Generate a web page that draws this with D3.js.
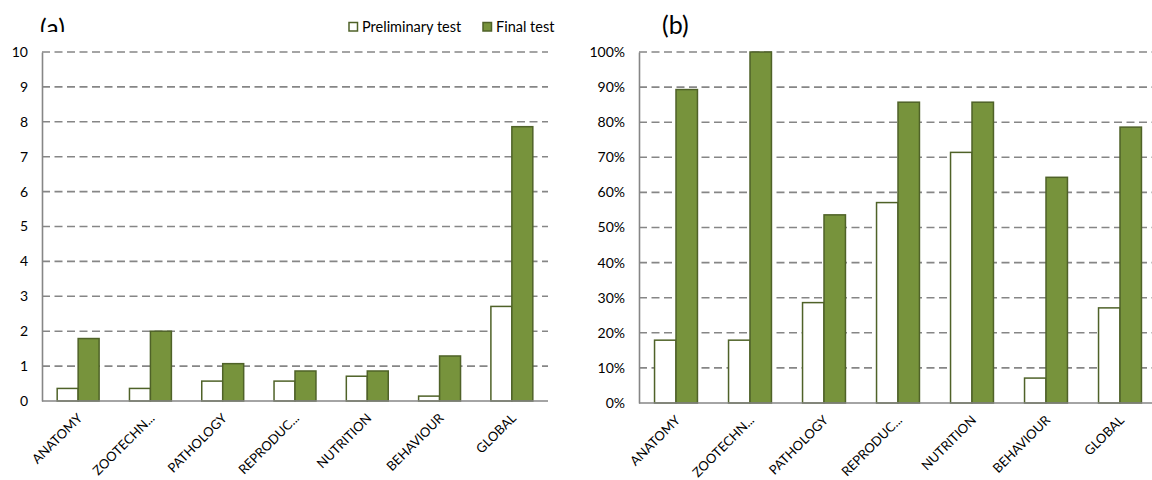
<!DOCTYPE html>
<html>
<head>
<meta charset="utf-8">
<script src="https://cdn.jsdelivr.net/npm/d3@7"></script>
<style>
  body { margin: 0; background: #fff; }
  svg { display: block; font-family: Lato, "Open Sans", sans-serif; }
</style>
</head>
<body>
<svg id="area" width="1152" height="480"></svg>
<script>
// data (14 students -> steps of 1/14)
const categories = ['ANATOMY', 'ZOOTECHN...', 'PATHOLOGY', 'REPRODUC...', 'NUTRITION', 'BEHAVIOUR', 'GLOBAL'];
const series = ['Preliminary test', 'Final test'];

const scorePrelim = [0.36, 0.36, 0.57, 0.57, 0.71, 0.14, 2.71];
const scoreFinal = [1.79, 2.0, 1.07, 0.86, 0.86, 1.29, 7.86];

const pctPrelim = [17.9, 17.9, 28.6, 57.1, 71.4, 7.1, 27.1];
const pctFinal = [89.3, 100, 53.6, 85.7, 85.7, 64.3, 78.6];

const scoreTicks = d3.range(0, 11, 1);
const pctTicks = d3.range(0, 101, 10);

const green = '#77933c';
const darkGreen = '#4f6228';
const gridGray = '#868686';

const svg = d3.select('#area');

// panel titles; (a) gets cut by the plot box under it
svg.append('text')
  .attr('x', 40)
  .attr('y', 37)
  .attr('font-size', 25)
  .text('(a)');
svg.append('rect')
  .attr('x', 30)
  .attr('y', 32)
  .attr('width', 60)
  .attr('height', 14)
  .attr('fill', '#fff');
svg.append('text')
  .attr('x', 662)
  .attr('y', 34)
  .attr('font-size', 25)
  .text('(b)');

function drawPanel(opts) {
  const g = svg.append('g');
  const x = d3.scaleBand()
    .domain(categories)
    .range(opts.xRange);
  const bw = x.bandwidth();
  const barW = bw * 0.29;
  const xs = d3.scaleBand()
    .domain(series)
    .range([bw / 2 - barW, bw / 2 + barW]);
  const y = d3.scaleLinear()
    .domain(opts.yDomain)
    .range(opts.yRange);

  // dashed grid
  g.selectAll('line.grid')
    .data(opts.ticks.slice(1))
    .enter().append('line')
    .attr('class', 'grid')
    .attr('x1', opts.xRange[0])
    .attr('x2', opts.gridEnd)
    .attr('y1', (d) => y(d))
    .attr('y2', (d) => y(d))
    .attr('stroke', gridGray)
    .attr('stroke-width', 1.6)
    .attr('stroke-dasharray', '8,4.5');

  const yAxis = d3.axisLeft(y)
    .tickValues(opts.ticks)
    .tickSize(0)
    .tickPadding(14)
    .tickFormat(opts.fmt);
  const ya = g.append('g')
    .attr('transform', `translate(${opts.xRange[0]},0)`)
    .call(yAxis);
  ya.select('.domain').attr('stroke', gridGray).attr('stroke-width', 1.6);
  ya.selectAll('text').attr('font-size', 14).attr('fill', '#000').attr('font-family', 'Lato, sans-serif');

  const rows = categories.map((c, i) => ({ cat: c, vals: [opts.pre[i], opts.fin[i]] }));
  const grp = g.selectAll('g.cat')
    .data(rows)
    .enter().append('g')
    .attr('class', 'cat')
    .attr('transform', (d) => `translate(${x(d.cat)},0)`);
  grp.selectAll('rect')
    .data((d) => d.vals.map((v, k) => ({ s: series[k], v })))
    .enter().append('rect')
    .attr('x', (d) => xs(d.s))
    .attr('y', (d) => y(d.v))
    .attr('width', xs.bandwidth())
    .attr('height', (d) => y(0) - y(d.v))
    .attr('fill', (d) => (d.s === series[0] ? '#fff' : green))
    .attr('stroke', darkGreen)
    .attr('stroke-width', 1.5);

  // category axis line
  g.append('line')
    .attr('x1', opts.xRange[0])
    .attr('x2', opts.gridEnd)
    .attr('y1', y(0))
    .attr('y2', y(0))
    .attr('stroke', gridGray)
    .attr('stroke-width', 1.6);

  // slanted category labels
  g.selectAll('g.lab')
    .data(categories)
    .enter().append('g')
    .attr('class', 'lab')
    .attr('transform', (d) => `translate(${x(d) + bw / 2 + 5},${y(0) + 18})`)
    .append('text')
    .attr('transform', 'rotate(-45)')
    .attr('text-anchor', 'end')
    .attr('font-size', 13)
    .attr('fill', '#000')
    .text((d) => d);
}

drawPanel({
  xRange: [42, 548], gridEnd: 548, yDomain: [0, 10], yRange: [401, 52],
  ticks: scoreTicks, fmt: d3.format('d'), pre: scorePrelim, fin: scoreFinal,
});
drawPanel({
  xRange: [639, 1157], gridEnd: 1152, yDomain: [0, 100], yRange: [403, 52],
  ticks: pctTicks, fmt: (d) => `${d}%`, pre: pctPrelim, fin: pctFinal,
});

// legend
const legend = svg.append('g').attr('font-size', 14.5);
const legX = [349, 483];
series.forEach((s, i) => {
  legend.append('rect')
    .attr('x', legX[i])
    .attr('y', 22.5)
    .attr('width', 8.5)
    .attr('height', 8.5)
    .attr('fill', i === 0 ? '#fff' : green)
    .attr('stroke', darkGreen)
    .attr('stroke-width', 1.5);
  legend.append('text')
    .attr('x', legX[i] + 13)
    .attr('y', 32)
    .text(s);
});
</script>
</body>
</html>
